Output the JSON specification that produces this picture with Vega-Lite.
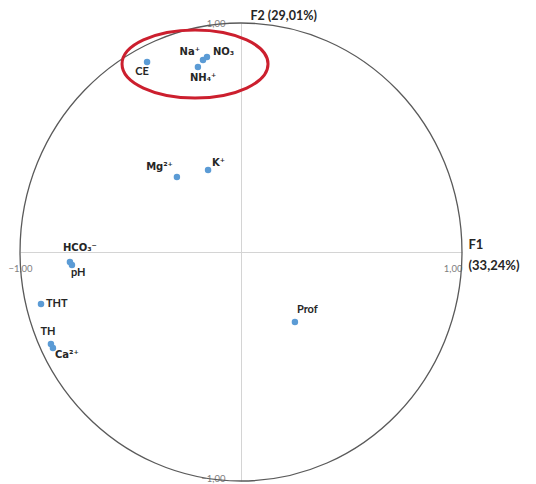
{
  "$schema": "https://vega.github.io/schema/vega-lite/v6.json",
  "width": 442,
  "height": 458,
  "autosize": {"type": "none"},
  "padding": {"left": 20, "top": 23, "right": 74, "bottom": 3},
  "background": "white",
  "config": {"view": {"stroke": null}, "font": "Lato"},
  "datasets": {
    "vars": [
      {"name": "CE", "x": -0.425, "y": 0.830},
      {"name": "Na⁺", "x": -0.172, "y": 0.838},
      {"name": "NO₃", "x": -0.154, "y": 0.852},
      {"name": "NH₄⁺", "x": -0.195, "y": 0.808},
      {"name": "Mg²⁺", "x": -0.290, "y": 0.328},
      {"name": "K⁺", "x": -0.149, "y": 0.358},
      {"name": "HCO₃⁻", "x": -0.774, "y": -0.044},
      {"name": "pH", "x": -0.765, "y": -0.057},
      {"name": "THT", "x": -0.905, "y": -0.227},
      {"name": "TH", "x": -0.860, "y": -0.402},
      {"name": "Ca²⁺", "x": -0.851, "y": -0.419},
      {"name": "Prof", "x": 0.244, "y": -0.306}
    ],
    "origin": [{"x": 0, "y": 0}],
    "highlight": [{"x": -0.208, "y": 0.821}]
  },
  "encoding": {
    "x": {
      "field": "x", "type": "quantitative",
      "scale": {"domain": [-1, 1], "nice": false, "zero": false},
      "axis": {
        "values": [-1, 1],
        "labelExpr": "replace(format(datum.value, '.2f'), '.', ',')",
        "offset": -229,
        "domainColor": "#d4d4d4",
        "ticks": false,
        "grid": false,
        "labelColor": "#808080",
        "labelFontSize": 9.5,
        "labelPadding": 11,
        "labelFlush": false,
        "labelAlign": {"condition": {"test": "datum.value > 0", "value": "right"}, "value": "center"},
        "title": ["F1", "(33,24%)"],
        "titleX": 448,
        "titleY": -14,
        "titleAlign": "left",
        "titleBaseline": "top",
        "titleFontSize": 13,
        "titleFontWeight": "bold",
        "titleColor": "#262626",
        "titleLineHeight": 21
      }
    },
    "y": {
      "field": "y", "type": "quantitative",
      "scale": {"domain": [-1, 1], "nice": false, "zero": false},
      "axis": {
        "values": [-1, 1],
        "labelExpr": "replace(format(datum.value, '.2f'), '.', ',')",
        "offset": -221,
        "domainColor": "#d4d4d4",
        "ticks": false,
        "grid": false,
        "labelColor": "#808080",
        "labelFontSize": 9.5,
        "labelPadding": 16,
        "labelFlush": false,
        "labelBaseline": {"condition": {"test": "datum.value < 0", "value": "alphabetic"}, "value": "middle"},
        "title": "F2 (29,01%)",
        "titleAngle": 0,
        "titleX": 9,
        "titleY": -4,
        "titleAlign": "left",
        "titleBaseline": "alphabetic",
        "titleFontSize": 12.5,
        "titleFontWeight": "bold",
        "titleColor": "#262626"
      }
    }
  },
  "layer": [
    {
      "data": {"name": "origin"},
      "mark": {"type": "point", "shape": "M -0.965 0 A 0.965 1 0 1 1 0.965 0 A 0.965 1 0 1 1 -0.965 0 Z", "size": 209764, "filled": false, "stroke": "#5a5a5a", "strokeWidth": 1.3, "opacity": 1}
    },
    {
      "data": {"name": "highlight"},
      "mark": {"type": "point", "shape": "M -1 0 A 1 0.466 0 1 1 1 0 A 1 0.466 0 1 1 -1 0 Z", "size": 21316, "filled": false, "stroke": "#cc1f2e", "strokeWidth": 3, "opacity": 1}
    },
    {
      "data": {"name": "vars"},
      "mark": {"type": "point", "shape": "circle", "size": 42, "filled": true, "color": "#5b9bd5", "opacity": 1}
    },
    {
      "data": {"name": "vars"},
      "transform": [{"filter": "datum.name === 'CE'"}],
      "mark": {"type": "text", "align": "center", "baseline": "middle", "dx": -5, "dy": 10, "fontSize": 11, "fontWeight": "bold", "color": "#262626"},
      "encoding": {"text": {"field": "name"}}
    },
    {
      "data": {"name": "vars"},
      "transform": [{"filter": "datum.name === 'Na⁺'"}],
      "mark": {"type": "text", "align": "right", "baseline": "middle", "dx": -3, "dy": -8, "font": "DejaVu Sans", "fontSize": 10, "fontWeight": "bold", "color": "#262626"},
      "encoding": {"text": {"field": "name"}}
    },
    {
      "data": {"name": "vars"},
      "transform": [{"filter": "datum.name === 'NO₃'"}],
      "mark": {"type": "text", "align": "left", "baseline": "middle", "dx": 6, "dy": -5, "font": "DejaVu Sans", "fontSize": 10, "fontWeight": "bold", "color": "#262626"},
      "encoding": {"text": {"field": "name"}}
    },
    {
      "data": {"name": "vars"},
      "transform": [{"filter": "datum.name === 'NH₄⁺'"}],
      "mark": {"type": "text", "align": "left", "baseline": "middle", "dx": -8, "dy": 11, "font": "DejaVu Sans", "fontSize": 10, "fontWeight": "bold", "color": "#262626"},
      "encoding": {"text": {"field": "name"}}
    },
    {
      "data": {"name": "vars"},
      "transform": [{"filter": "datum.name === 'Mg²⁺'"}],
      "mark": {"type": "text", "align": "right", "baseline": "middle", "dx": -4, "dy": -10, "font": "DejaVu Sans", "fontSize": 10, "fontWeight": "bold", "color": "#262626"},
      "encoding": {"text": {"field": "name"}}
    },
    {
      "data": {"name": "vars"},
      "transform": [{"filter": "datum.name === 'K⁺'"}],
      "mark": {"type": "text", "align": "left", "baseline": "middle", "dx": 4, "dy": -7, "font": "DejaVu Sans", "fontSize": 10, "fontWeight": "bold", "color": "#262626"},
      "encoding": {"text": {"field": "name"}}
    },
    {
      "data": {"name": "vars"},
      "transform": [{"filter": "datum.name === 'HCO₃⁻'"}],
      "mark": {"type": "text", "align": "left", "baseline": "middle", "dx": -7, "dy": -14, "font": "DejaVu Sans", "fontSize": 10, "fontWeight": "bold", "color": "#262626"},
      "encoding": {"text": {"field": "name"}}
    },
    {
      "data": {"name": "vars"},
      "transform": [{"filter": "datum.name === 'pH'"}],
      "mark": {"type": "text", "align": "left", "baseline": "middle", "dx": -1, "dy": 8, "fontSize": 11, "fontWeight": "bold", "color": "#262626"},
      "encoding": {"text": {"field": "name"}}
    },
    {
      "data": {"name": "vars"},
      "transform": [{"filter": "datum.name === 'THT'"}],
      "mark": {"type": "text", "align": "left", "baseline": "middle", "dx": 5, "dy": 0, "fontSize": 11, "fontWeight": "bold", "color": "#262626"},
      "encoding": {"text": {"field": "name"}}
    },
    {
      "data": {"name": "vars"},
      "transform": [{"filter": "datum.name === 'TH'"}],
      "mark": {"type": "text", "align": "center", "baseline": "middle", "dx": -3, "dy": -12, "fontSize": 11, "fontWeight": "bold", "color": "#262626"},
      "encoding": {"text": {"field": "name"}}
    },
    {
      "data": {"name": "vars"},
      "transform": [{"filter": "datum.name === 'Ca²⁺'"}],
      "mark": {"type": "text", "align": "left", "baseline": "middle", "dx": 2, "dy": 7, "font": "DejaVu Sans", "fontSize": 10, "fontWeight": "bold", "color": "#262626"},
      "encoding": {"text": {"field": "name"}}
    },
    {
      "data": {"name": "vars"},
      "transform": [{"filter": "datum.name === 'Prof'"}],
      "mark": {"type": "text", "align": "left", "baseline": "middle", "dx": 2, "dy": -12, "fontSize": 11, "fontWeight": "bold", "color": "#262626"},
      "encoding": {"text": {"field": "name"}}
    }
  ]
}
